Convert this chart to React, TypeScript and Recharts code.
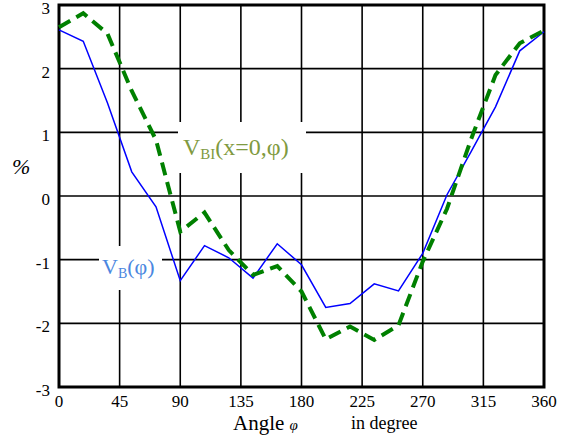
import { LineChart, Line, XAxis, YAxis, CartesianGrid, ReferenceArea } from "recharts";

const angles = [0, 18, 36, 54, 72, 90, 108, 126, 144, 162, 180, 198, 216, 234, 252, 270, 288, 306, 324, 342, 360];
const vB = [2.61, 2.43, 1.46, 0.38, -0.17, -1.33, -0.78, -0.97, -1.29, -0.75, -1.08, -1.75, -1.69, -1.38, -1.49, -0.9, 0.02, 0.7, 1.4, 2.28, 2.58];
const vBI = [2.65, 2.87, 2.55, 1.65, 0.88, -0.56, -0.26, -0.85, -1.24, -1.1, -1.5, -2.25, -2.05, -2.26, -2.03, -1.03, -0.2, 0.9, 1.9, 2.4, 2.6];

const xTicks = [0, 45, 90, 135, 180, 225, 270, 315, 360];
const yTicks = [-3, -2, -1, 0, 1, 2, 3];

const data = angles.map((a, i) => ({ angle: a, vB: vB[i], vBI: vBI[i] }));

const FONT = "Liberation Serif, DejaVu Serif, serif";
const tickStyle = { fontSize: 17, fill: "#000", fontFamily: FONT };

export default function App() {
  return (
    <div style={{ position: "absolute", left: 0, top: 0, width: 571, height: 439, background: "#fff", fontFamily: FONT }}>
      <LineChart width={571} height={439} data={data} margin={{ top: 5, right: 27, bottom: 0, left: 0 }} style={{ overflow: "visible" }}>
        <CartesianGrid stroke="#000" strokeWidth={1.6} />
        <XAxis
          dataKey="angle"
          type="number"
          domain={[0, 360]}
          ticks={xTicks}
          interval={0}
          height={52}
          tickSize={0}
          tickMargin={8}
          axisLine={false}
          tick={tickStyle}
        />
        <YAxis
          type="number"
          domain={[-3, 3]}
          ticks={yTicks}
          interval={0}
          width={59}
          tickSize={0}
          tickMargin={9}
          axisLine={false}
          tick={{ ...tickStyle, dy: 3 }}
        />
        <ReferenceArea x1={0} x2={360} y1={-3} y2={3} fill="none" stroke="#000" strokeWidth={3} ifOverflow="visible" />
        <Line dataKey="vB" stroke="#0000ff" strokeWidth={1.5} dot={false} isAnimationActive={false} />
        <Line dataKey="vBI" stroke="#008000" strokeWidth={4} strokeDasharray="13 7" dot={false} isAnimationActive={false} />
      </LineChart>

      <div style={{ position: "absolute", left: 178, top: 122, width: 128, height: 51, background: "#fff", color: "#7f9a40", fontSize: 24, lineHeight: "51px", paddingLeft: 5, boxSizing: "border-box", whiteSpace: "nowrap" }}>
        V<sub style={{ fontSize: 15, verticalAlign: "-4px", lineHeight: 1 }}>BI</sub>(x=0,φ)
      </div>
      <div style={{ position: "absolute", left: 99, top: 246, width: 63, height: 44, background: "#fff", color: "#4a86e0", fontSize: 22, lineHeight: "42px", paddingLeft: 3, boxSizing: "border-box", whiteSpace: "nowrap" }}>
        V<sub style={{ fontSize: 14, verticalAlign: "-4px", lineHeight: 1 }}>B</sub>(φ)
      </div>

      <div style={{ position: "absolute", left: 12, top: 156, fontSize: 22, lineHeight: 1, fontStyle: "italic" }}>%</div>
      <div style={{ position: "absolute", left: 233, top: 413, fontSize: 21, lineHeight: 1, whiteSpace: "nowrap" }}>
        Angle <span style={{ fontStyle: "italic", fontSize: 15 }}>φ</span>
      </div>
      <div style={{ position: "absolute", left: 351, top: 414, fontSize: 18, lineHeight: 1, whiteSpace: "nowrap" }}>in degree</div>
    </div>
  );
}
